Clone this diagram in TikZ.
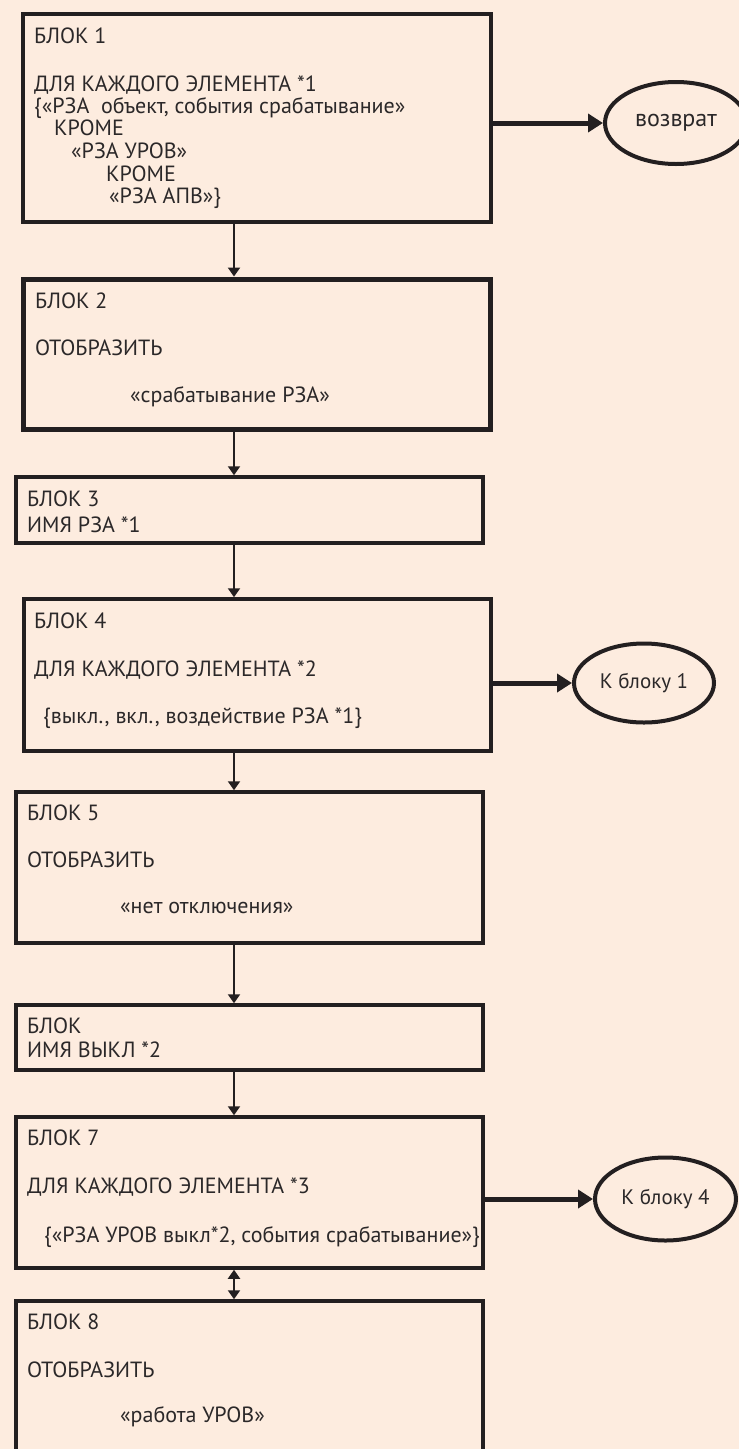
\documentclass[tikz,border=0pt]{standalone}
\usepackage{fontspec}
\setmainfont{PT Sans}
\usetikzlibrary{arrows.meta,shapes.geometric}
\definecolor{bg}{HTML}{FDECDF}
\definecolor{ink}{HTML}{231F20}
\definecolor{txtc}{HTML}{2B2829}
\begin{document}
\begin{tikzpicture}[x=1pt,y=-1pt,
  box/.style={draw=ink,line width=3.5pt,rectangle,inner sep=0pt,minimum width=467pt},
  oval/.style={draw=ink,line width=4pt,ellipse,inner sep=0pt,font=\fontsize{21}{22}\selectfont,text=txtc},
  txt/.style={anchor=base west,inner sep=0pt,font=\fontsize{22}{24}\selectfont,text=txtc},
  thinline/.style={draw=ink,line width=2pt},
  thintip/.tip={Triangle[length=9pt,width=12pt]},
  thinarrow/.style={thinline,-thintip},
  thickarrow/.style={draw=ink,line width=5pt,-{Triangle[length=15pt,width=18pt]}}]
\useasboundingbox (0,0) rectangle (739,1449);
\clip (0,0) rectangle (739,1449);
\fill[bg] (0,0) rectangle (739,1449);

% boxes
\node[box,minimum width=468pt,minimum height=208pt,line width=4pt] (b1) at (257,118) {};
\node[box,minimum height=150pt,line width=5pt] (b2) at (257,354) {};
\node[box,minimum height=66pt] (b3) at (249.5,510) {};
\node[box,minimum height=152pt] (b4) at (257.5,675) {};
\node[box,minimum height=151pt] (b5) at (249.5,867.5) {};
\node[box,minimum height=65pt] (b6) at (249.5,1037.5) {};
\node[box,minimum height=151pt] (b7) at (249.5,1192.5) {};
\node[box,minimum height=154pt] (b8) at (249.5,1378) {};

% ovals
\node[oval,minimum width=142pt,minimum height=82pt,font=\fontsize{24}{26}\selectfont] (e1) at (676,123) {возврат};
\node[oval,minimum width=140pt,minimum height=79pt] (e2) at (644,683) {К блоку 1};
\node[oval,minimum width=141pt,minimum height=83pt] (e3) at (665.5,1199) {К блоку 4};

% texts block 1
\node[txt] (t1a) at (34,43) {БЛОК 1};
\node[txt] (t1b) at (34,91) {ДЛЯ КАЖДОГО ЭЛЕМЕНТА *1};
\node[txt] (t1c) at (34,113) {\{«РЗА\ \ объект, события срабатывание»};
\node[txt] (t1d) at (54,135) {КРОМЕ};
\node[txt] (t1e) at (71,158) {«РЗА УРОВ»};
\node[txt] (t1f) at (106,181) {КРОМЕ};
\node[txt] (t1g) at (109,203) {«РЗА АПВ»\}};
% block 2
\node[txt] (t2a) at (35,308) {БЛОК 2};
\node[txt] (t2b) at (35,355) {ОТОБРАЗИТЬ};
\node[txt] (t2c) at (130,402) {«срабатывание РЗА»};
% block 3
\node[txt] (t3a) at (27,506) {БЛОК 3};
\node[txt] (t3b) at (27,532) {ИМЯ РЗА *1};
% block 4
\node[txt] (t4a) at (34,628) {БЛОК 4};
\node[txt] (t4b) at (34,676) {ДЛЯ КАЖДОГО ЭЛЕМЕНТА *2};
\node[txt] (t4c) at (43,723) {\{выкл., вкл., воздействие РЗА *1\}};
% block 5
\node[txt] (t5a) at (27,820) {БЛОК 5};
\node[txt] (t5b) at (27,867) {ОТОБРАЗИТЬ};
\node[txt] (t5c) at (120,913) {«нет отключения»};
% block 6
\node[txt] (t6a) at (27,1033) {БЛОК};
\node[txt] (t6b) at (27,1057) {ИМЯ ВЫКЛ *2};
% block 7
\node[txt] (t7a) at (27,1145) {БЛОК 7};
\node[txt] (t7b) at (27,1193) {ДЛЯ КАЖДОГО ЭЛЕМЕНТА *3};
\node[txt] (t7c) at (44,1242) {\{«РЗА УРОВ выкл*2, события срабатывание»\}};
% block 8
\node[txt] (t8a) at (27,1329) {БЛОК 8};
\node[txt] (t8b) at (27,1377) {ОТОБРАЗИТЬ};
\node[txt] (t8c) at (120,1422) {«работа УРОВ»};

% connectors
\coordinate (ax) at (234,0);
\draw[thinarrow] (b1.south -| ax) -- (b2.north -| ax);
\draw[thinarrow] (b2.south -| ax) -- (b3.north -| ax);
\draw[thinarrow] (b3.south -| ax) -- (b4.north -| ax);
\draw[thinarrow] (b4.south -| ax) -- (b5.north -| ax);
\draw[thinarrow] (b5.south -| ax) -- (b6.north -| ax);
\draw[thinarrow] (b6.south -| ax) -- (b7.north -| ax);
\draw[thinline,thintip-thintip] (b7.south -| ax) -- (b8.north -| ax);

\draw[thickarrow] (e1.west -| b1.east) -- (e1.west);
\draw[thickarrow] (e2.west -| b4.east) -- (e2.west);
\draw[thickarrow] (e3.west -| b7.east) -- (e3.west);
\end{tikzpicture}
\end{document}
